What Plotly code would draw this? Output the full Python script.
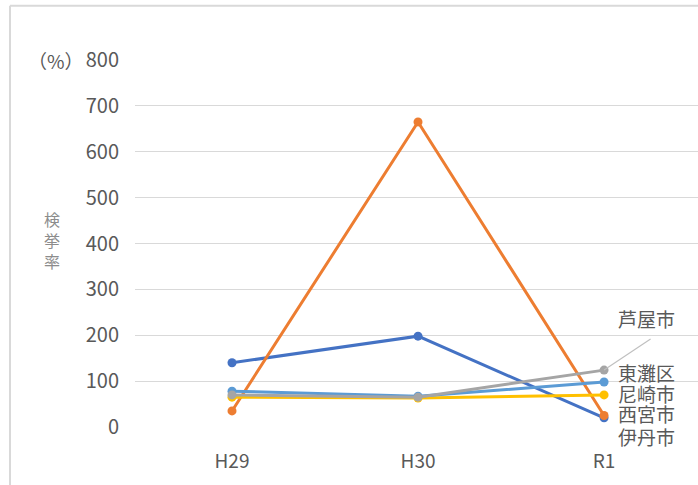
import plotly.graph_objects as go

# Fiscal years on the category axis
years = ["H29", "H30", "R1"]

# Arrest rate (%) per area
higashinada = [78, 67, 98]     # 東灘区
amagasaki = [65, 63, 70]       # 尼崎市
nishinomiya = [35, 665, 25]    # 西宮市
itami = [140, 198, 20]         # 伊丹市
ashiya = [70, 65, 124]         # 芦屋市

y_ticks = [0, 100, 200, 300, 400, 500, 600, 700, 800]

series = [
    ("伊丹市", itami, "#4472C4"),
    ("西宮市", nishinomiya, "#ED7D31"),
    ("尼崎市", amagasaki, "#FFC000"),
    ("東灘区", higashinada, "#5B9BD5"),
    ("芦屋市", ashiya, "#A5A5A5"),
]

FONT = "Noto Sans CJK JP, Noto Sans, sans-serif"
TEXT = "#595959"

fig = go.Figure()
for name, vals, color in series:
    fig.add_trace(go.Scatter(
        x=list(range(len(years))), y=vals, name=name, mode="lines+markers",
        line=dict(color=color, width=3),
        marker=dict(color=color, size=9),
        showlegend=False, hoverinfo="skip",
    ))

# Series-name labels beside the last point, nudged apart (pixel shifts)
label_shift = {"芦屋市": 52, "東灘区": 10, "尼崎市": 1, "西宮市": 2, "伊丹市": -19}
last = len(years) - 1
for name, vals, color in series:
    fig.add_annotation(
        x=last, y=vals[last], xref="x", yref="y",
        text=name, showarrow=False, xanchor="left", yanchor="middle",
        xshift=12, yshift=label_shift[name],
        font=dict(family=FONT, size=19, color=TEXT),
    )

# Leader line from the 芦屋市 point towards its label
fig.add_shape(type="line", xref="x", yref="y",
              x0=last, y0=ashiya[last], x1=last + 0.25, y1=ashiya[last] + 68,
              line=dict(color="#BFBFBF", width=1.2))

# Unit and axis title
fig.add_annotation(xref="paper", yref="paper", x=-0.14, y=1.0,
                   text="（%）", showarrow=False, xanchor="center", yanchor="middle",
                   font=dict(family=FONT, size=19, color=TEXT))
fig.add_annotation(xref="paper", yref="paper", x=-0.147, y=0.51,
                   text="検<br>挙<br>率", showarrow=False, xanchor="center", yanchor="middle",
                   font=dict(family=FONT, size=16, color="#8C8C8C"))

# Chart-area frame (top and left edges)
fig.add_shape(type="line", xref="paper", yref="paper",
              x0=-0.222, y0=1.148, x1=1.0, y1=1.148,
              line=dict(color="#D9D9D9", width=2))
fig.add_shape(type="line", xref="paper", yref="paper",
              x0=-0.222, y0=1.148, x1=-0.222, y1=-0.2,
              line=dict(color="#D9D9D9", width=2))

fig.update_layout(
    width=698, height=485,
    margin=dict(l=135, r=0, t=60, b=58),
    paper_bgcolor="white", plot_bgcolor="white",
    font=dict(family=FONT, color=TEXT),
    xaxis=dict(
        tickmode="array", tickvals=list(range(len(years))), ticktext=years,
        range=[-0.5215, 2.505], showgrid=False, zeroline=False, showline=False,
        ticks="", tickfont=dict(family=FONT, size=19, color=TEXT),
        ticklabelstandoff=21,
    ),
    yaxis=dict(
        range=[0, 800], tickvals=y_ticks, showgrid=True, gridcolor="#D9D9D9",
        gridwidth=1.3, zeroline=False, showline=False, ticks="",
        tickfont=dict(family=FONT, size=20, color=TEXT),
        ticklabelstandoff=15,
    ),
)

fig.write_html("out.html")
